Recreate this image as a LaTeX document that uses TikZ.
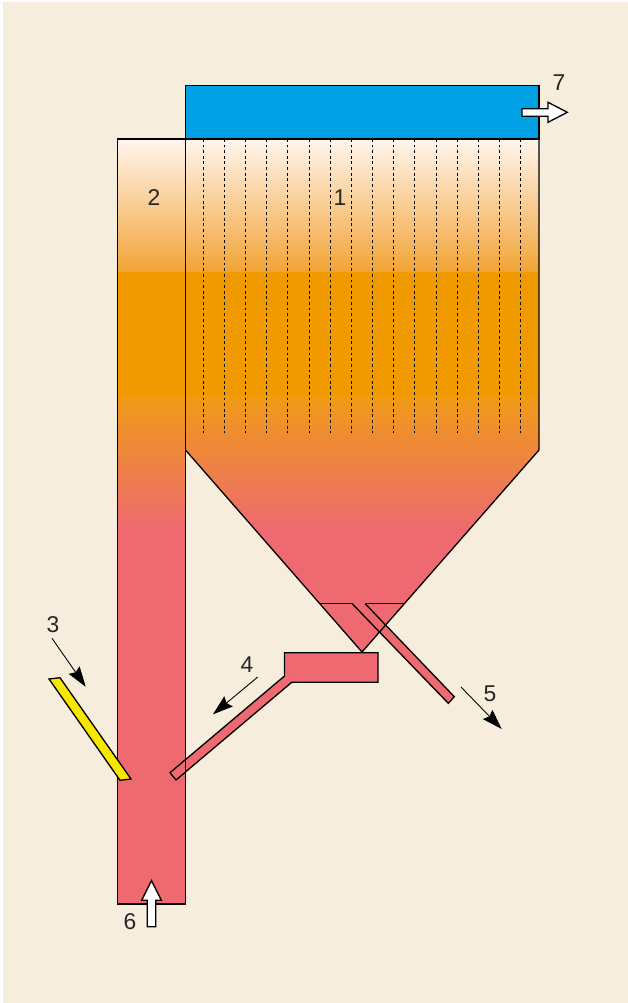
\documentclass[tikz,border=0pt]{standalone}
\usepackage{fontspec}
\setmainfont{Liberation Sans}
\usepackage{xcolor}
\usetikzlibrary{arrows.meta}
\definecolor{paper}{HTML}{F6EDDD}
\definecolor{hotpink}{HTML}{EE6A70}
\definecolor{bedorange}{HTML}{F09A00}
\definecolor{fadeorange}{HTML}{F2A335}
\definecolor{paleorange}{HTML}{FFF6EE}
\definecolor{midorange}{HTML}{EF9A18}
\definecolor{plenum}{HTML}{00A0E4}
\definecolor{feedyellow}{HTML}{F7E600}
\newcommand{\tempbands}[2]{
  \shade[top color=paleorange, bottom color=fadeorange] (#1,139) rectangle (#2,273);
  \fill[bedorange] (#1,272.5) rectangle (#2,398.5);
  \shade[top color=midorange, bottom color=hotpink] (#1,398) rectangle (#2,530);
  \fill[hotpink] (#1,529.5) rectangle (#2,904);
}
\tikzset{
  wall/.style={draw=black, line width=0.75pt, line join=miter},
  tube/.style={draw=black, line width=0.75pt, dash pattern=on 1.6pt off 1.6pt},
  label/.style={font=\fontsize{13}{15}\selectfont, text=black!85, inner sep=0pt},
  flow/.style={draw=black, line width=0.5pt, -{Stealth[length=11.5pt, width=7.5pt, inset=1.5pt]}},
  gasarrow/.style={draw=black, fill=white, line width=0.75pt, line join=miter}
}

\begin{document}
\begin{tikzpicture}[x=0.02cm, y=-0.02cm]
  \useasboundingbox (0,0) rectangle (628,1003);
  \fill[paper] (3,2) rectangle (628,1003);

  % riser
  \begin{scope}
    \clip (117.5,139) rectangle (185.5,904);
    \tempbands{117.5}{185.5}
  \end{scope}

  % bed and cone
  \begin{scope}
    \clip (185.5,139) -- (539,139) -- (539,450) -- (362,652) -- (185.5,450) -- cycle;
    \tempbands{185.5}{539}
  \end{scope}
  \foreach \tubex in {203.5,224.5,245.5,266.5,287.5,309.5,330.5,351.5,372.5,393.5,414.5,436.5,457.5,478.5,499.5,520.5}
    \draw[tube] (\tubex,139) -- (\tubex,432.5);

  % return pipe and discharge pipe
  \draw[wall, fill=hotpink] (284.5,652.7) -- (378,652.7) -- (378,682.3) -- (291.7,682.3)
    -- (176,780) -- (170,772.7) -- (284.5,676) -- cycle;
  \draw[wall, fill=hotpink] (352,603.5) -- (448.3,703.3) -- (454.3,696.7) -- (365,603.5);
  \draw[wall] (320,603.5) -- (352,603.5);
  \draw[wall] (365,603.5) -- (404.3,603.5);

  % outlines
  \draw[wall] (117.5,904) -- (117.5,139) -- (185.5,139) -- (185.5,904) -- cycle;
  \draw[wall] (185.5,139) -- (539,139) -- (539,450) -- (362,652) -- (185.5,450);
  \draw[wall, fill=plenum] (185.5,85.5) rectangle (539,139);
  \draw[wall, fill=feedyellow] (49,679) -- (60,677.7) -- (131,779) -- (120,780.3) -- cycle;

  % gas arrows
  \draw[gasarrow] (522,108.7) -- (548,108.7) -- (548,102.3) -- (567.3,112.3) -- (548,122.3)
    -- (548,116.3) -- (522,116.3) -- cycle;
  \draw[gasarrow] (147.3,926.7) -- (147.3,900.3) -- (141.7,900.3) -- (151.5,880.7) -- (161.3,900.3)
    -- (155.7,900.3) -- (155.7,926.7) -- cycle;

  % flow arrows
  \coordinate (feedstart) at (52,638.3);
  \coordinate (feedend) at (85.7,686.7);
  \coordinate (returnstart) at (257.7,677);
  \coordinate (returnend) at (213,714.3);
  \coordinate (ashstart) at (461,687);
  \coordinate (ashend) at (501.7,729);
  \draw[flow] (feedstart) -- (feedend);
  \draw[flow] (returnstart) -- (returnend);
  \draw[flow] (ashstart) -- (ashend);

  \node[label] (one) at (340,198) {1};
  \node[label] (two) at (154,198) {2};
  \node[label] (three) at (53,625) {3};
  \node[label] (four) at (247,665) {4};
  \node[label] (five) at (490,694) {5};
  \node[label] (six) at (130,922) {6};
  \node[label] (seven) at (559,83) {7};
\end{tikzpicture}
\end{document}
